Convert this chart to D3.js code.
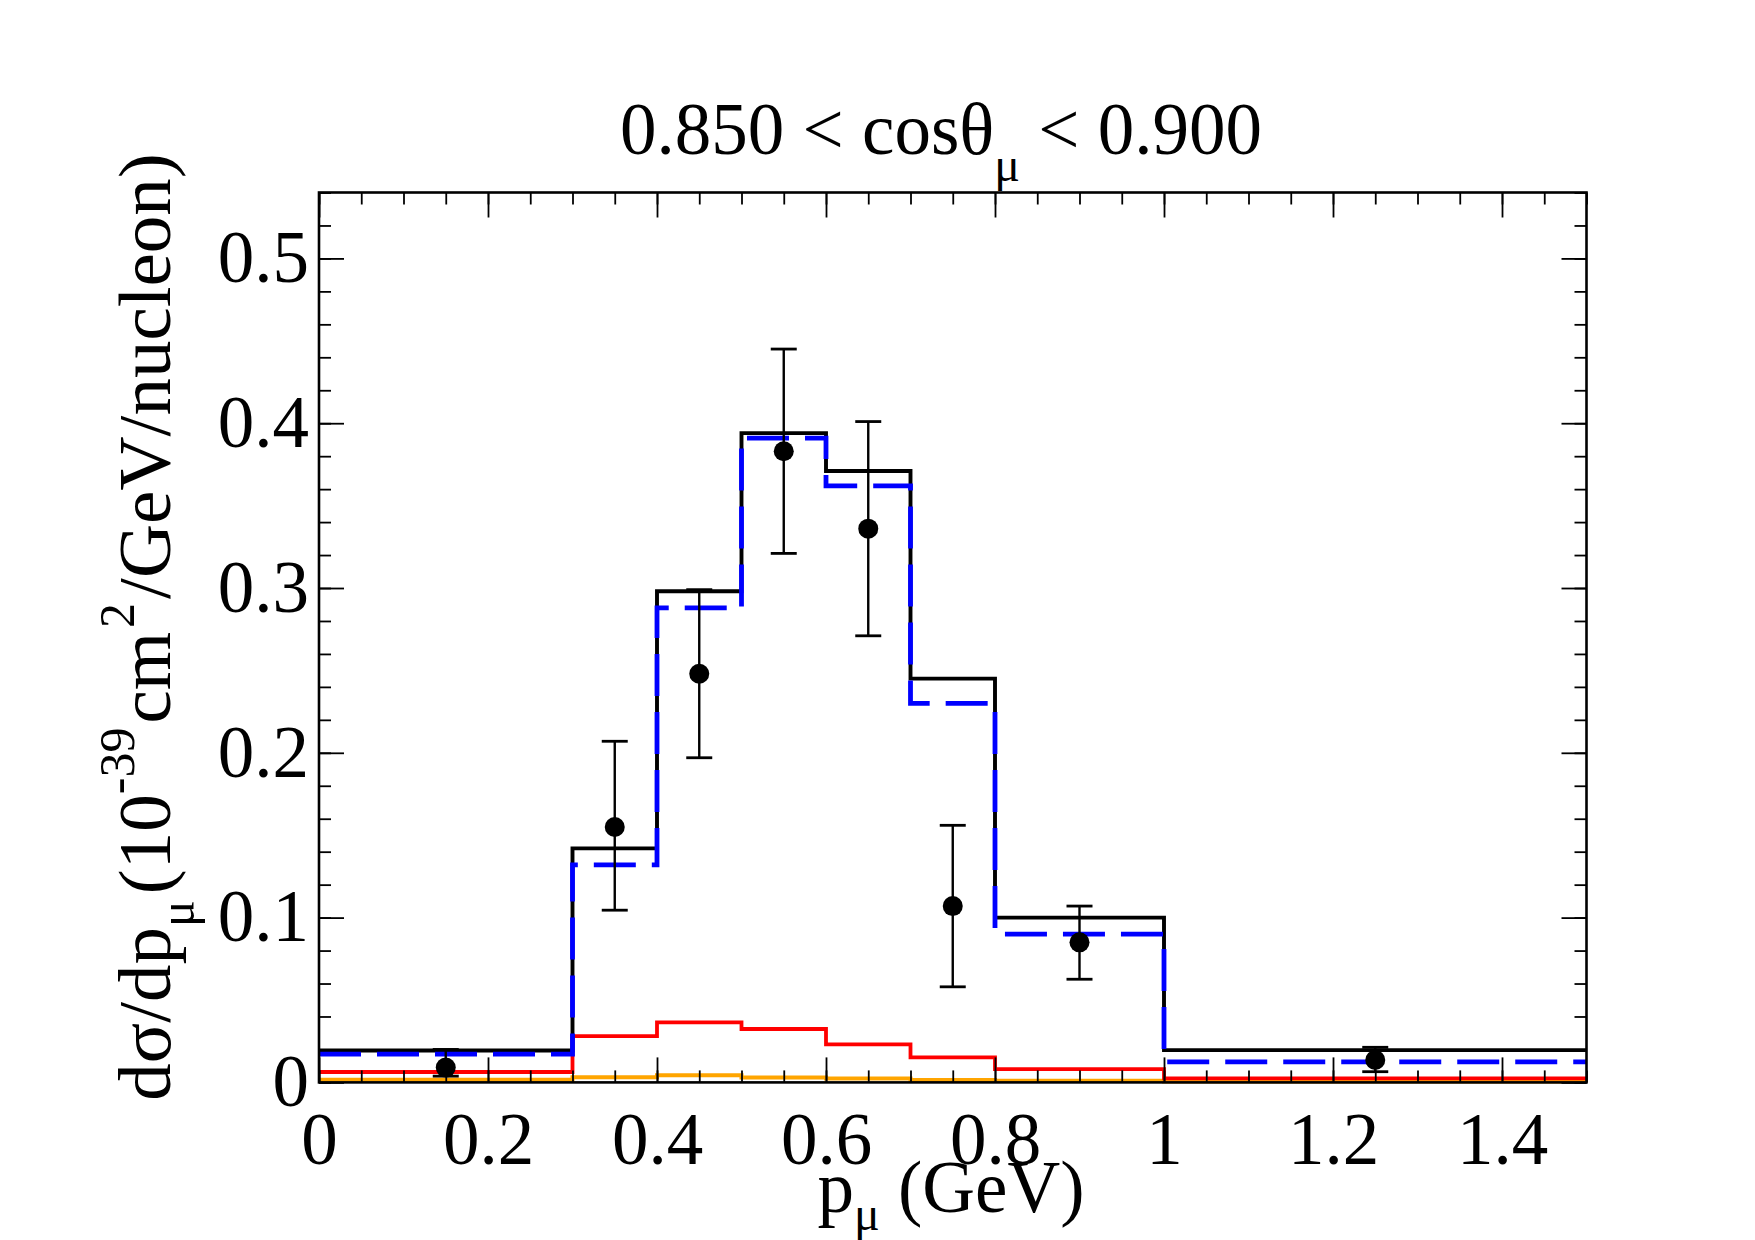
<!DOCTYPE html>
<html>
<head>
<meta charset="utf-8">
<script src="https://cdn.jsdelivr.net/npm/d3@7"></script>
<style>
  body { margin: 0; background: #fff; }
  text { font-family: "Liberation Serif", "Times New Roman", serif; fill: #000; }
</style>
</head>
<body>
<svg id="chart" width="1755" height="1240"></svg>
<script>
// bin edges in p_mu (GeV)
var binEdges = [0, 0.3, 0.4, 0.5, 0.6, 0.7, 0.8, 1.0, 1.5];

// model curves, one value per bin
var totalVals = [0.0194, 0.142, 0.298, 0.394, 0.371, 0.245, 0.100, 0.0196];
var blueVals  = [0.0172, 0.132, 0.288, 0.391, 0.362, 0.230, 0.090, 0.0125];
var redVals   = [0.0063, 0.0281, 0.0364, 0.0324, 0.0231, 0.0152, 0.0080, 0.0025];
var orangeVals = [0.0016, 0.0031, 0.0044, 0.0030, 0.0023, 0.0015, 0.0010, 0.0005];

// data points
var dataX  = [0.15, 0.35, 0.45, 0.55, 0.65, 0.75, 0.9, 1.25];
var dataY  = [0.0090, 0.155, 0.248, 0.383, 0.336, 0.107, 0.085, 0.0136];
var dataLo = [0.0038, 0.1045, 0.197, 0.321, 0.271, 0.058, 0.0626, 0.0065];
var dataHi = [0.0200, 0.207, 0.299, 0.445, 0.401, 0.156, 0.107, 0.0213];

// tick labels
var xTicks = [0, 0.2, 0.4, 0.6, 0.8, 1.0, 1.2, 1.4];
var yTicks = [0, 0.1, 0.2, 0.3, 0.4, 0.5];

var svg = d3.select('#chart');
var W = 1755, H = 1240;
var margin = { left: 319, top: 192.5, right: 168.5, bottom: 157.6 };
var w = W - margin.left - margin.right,
    h = H - margin.top - margin.bottom;

var x = d3.scaleLinear().domain([0, 1.5]).range([0, w]);
var y = d3.scaleLinear().domain([0, 0.54]).range([h, 0]);

var g = svg.append('g')
    .attr('transform', 'translate(' + margin.left + ',' + margin.top + ')');

// step line through bin values
function stepPoints(vals) {
    var pts = vals.map(function(v, i) { return [binEdges[i], v]; });
    pts.push([binEdges[binEdges.length - 1], vals[vals.length - 1]]);
    return pts;
}
var step = d3.line()
    .x(function(d) { return x(d[0]); })
    .y(function(d) { return y(d[1]); })
    .curve(d3.curveStepAfter);

var curves = [
    { vals: orangeVals, color: '#ffa500', width: 4, dash: null },
    { vals: redVals, color: '#ff0000', width: 3.8, dash: null },
    { vals: totalVals, color: '#000000', width: 3.9, dash: null },
    { vals: blueVals, color: '#0000ff', width: 4.8, dash: '42,16' }
];
g.selectAll('path.curve')
    .data(curves)
  .enter().append('path')
    .attr('class', 'curve')
    .attr('fill', 'none')
    .attr('stroke', function(c) { return c.color; })
    .attr('stroke-width', function(c) { return c.width; })
    .attr('stroke-dasharray', function(c) { return c.dash; })
    .attr('d', function(c) { return step(stepPoints(c.vals)); });

// axes: minor ticks first, then majors with labels
var xMinor = d3.range(0, 1.5001, 0.05);
var yMinor = d3.range(0, 0.5401, 0.02);

function styleAxis(sel) {
    sel.select('.domain').remove();
    sel.selectAll('line').attr('stroke', '#000').attr('stroke-width', 1.8);
}

g.append('g').attr('transform', 'translate(0,' + h + ')')
    .call(d3.axisBottom(x).tickValues(xMinor).tickSize(-12).tickFormat(''))
    .call(styleAxis);
g.append('g')
    .call(d3.axisTop(x).tickValues(xMinor).tickSize(-12).tickFormat(''))
    .call(styleAxis);
g.append('g')
    .call(d3.axisLeft(y).tickValues(yMinor).tickSize(-12).tickFormat(''))
    .call(styleAxis);
g.append('g').attr('transform', 'translate(' + w + ',0)')
    .call(d3.axisRight(y).tickValues(yMinor).tickSize(-12).tickFormat(''))
    .call(styleAxis);

var fmt = d3.format('~g');
var xAxis = g.append('g').attr('transform', 'translate(0,' + h + ')')
    .call(d3.axisBottom(x).tickValues(xTicks).tickSize(-25).tickFormat(fmt).tickPadding(30))
    .call(styleAxis);
xAxis.selectAll('text').attr('font-size', 73).attr('fill', '#000');
g.append('g')
    .call(d3.axisTop(x).tickValues(xTicks).tickSize(-25).tickFormat(''))
    .call(styleAxis);
var yAxis = g.append('g')
    .call(d3.axisLeft(y).tickValues(yTicks).tickSize(-25).tickFormat(fmt).tickPadding(10))
    .call(styleAxis);
yAxis.selectAll('text').attr('font-size', 73).attr('fill', '#000');
g.append('g').attr('transform', 'translate(' + w + ',0)')
    .call(d3.axisRight(y).tickValues(yTicks).tickSize(-25).tickFormat(''))
    .call(styleAxis);

// frame
g.append('rect')
    .attr('width', w).attr('height', h)
    .attr('fill', 'none').attr('stroke', '#000').attr('stroke-width', 2.6);

// data points with error bars
var pts = dataX.map(function(px, i) {
    return { x: px, y: dataY[i], lo: dataLo[i], hi: dataHi[i] };
});
var pg = g.selectAll('g.pt').data(pts).enter().append('g').attr('class', 'pt');
pg.append('line')
    .attr('x1', function(d) { return x(d.x); }).attr('x2', function(d) { return x(d.x); })
    .attr('y1', function(d) { return y(d.lo); }).attr('y2', function(d) { return y(d.hi); })
    .attr('stroke', '#000').attr('stroke-width', 2.4);
[ 'lo', 'hi' ].forEach(function(k) {
    pg.append('line')
        .attr('x1', function(d) { return x(d.x) - 13; }).attr('x2', function(d) { return x(d.x) + 13; })
        .attr('y1', function(d) { return y(d[k]); }).attr('y2', function(d) { return y(d[k]); })
        .attr('stroke', '#000').attr('stroke-width', 2.8);
});
pg.append('circle')
    .attr('cx', function(d) { return x(d.x); })
    .attr('cy', function(d) { return y(d.y); })
    .attr('r', 10)
    .attr('fill', '#000');

// title
var title = svg.append('text')
    .attr('x', 941).attr('y', 154)
    .attr('text-anchor', 'middle')
    .attr('font-size', 73);
title.append('tspan').text('0.850 < cos\u03b8');
title.append('tspan').attr('dy', 27).attr('font-size', 48).text('\u03bc');
title.append('tspan').attr('dy', -27).text(' < 0.900');

// x label
var xl = svg.append('text')
    .attr('x', 951).attr('y', 1212)
    .attr('text-anchor', 'middle')
    .attr('font-size', 73);
xl.append('tspan').text('p');
xl.append('tspan').attr('dy', 18).attr('font-size', 48).text('\u03bc');
xl.append('tspan').attr('dy', -18).text(' (GeV)');

// y label
var yl = svg.append('text')
    .attr('transform', 'translate(170,627) rotate(-90)')
    .attr('text-anchor', 'middle')
    .attr('font-size', 75);
yl.append('tspan').text('d\u03c3/dp');
yl.append('tspan').attr('dy', 24).attr('font-size', 50).text('\u03bc');
yl.append('tspan').attr('dy', -24).attr('dx', 6).text('(10');
yl.append('tspan').attr('dy', -36).attr('font-size', 50).text('-39');
yl.append('tspan').attr('dy', 36).attr('dx', 4).text('cm');
yl.append('tspan').attr('dy', -36).attr('dx', 4).attr('font-size', 50).text('2');
yl.append('tspan').attr('dy', 36).attr('dx', 4).text('/GeV/nucleon)');
</script>
</body>
</html>
